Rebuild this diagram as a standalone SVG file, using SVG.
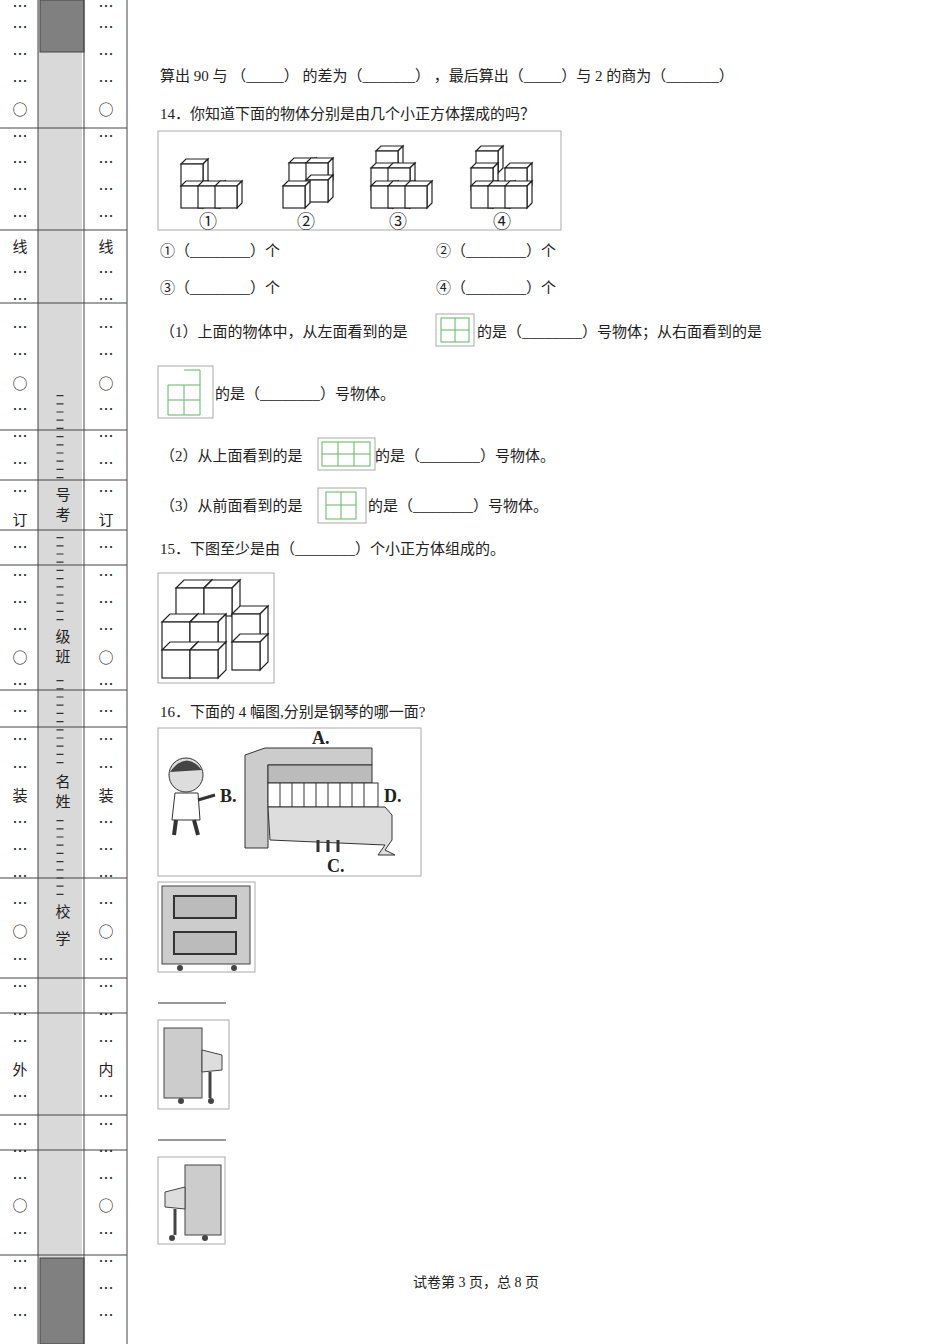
<svg xmlns="http://www.w3.org/2000/svg" width="950" height="1344" viewBox="0 0 950 1344">
<style>
text{font-family:"Liberation Serif","Noto Sans CJK SC",serif;fill:#222}
#margin text{font-family:"Noto Sans CJK SC",sans-serif}
.t{font-size:15px}
.m{font-size:15px;text-anchor:middle}
.sep{stroke:#444;stroke-width:1}
.g{fill:none;stroke:#5cb85c;stroke-width:1}
.box{fill:none;stroke:#aaa;stroke-width:1}
.c{fill:#fff;stroke:#222;stroke-width:1.2}
</style>
<defs>
<g id="cube"><path class="c" d="M0,0 L5,-5 L27,-5 L22,0 Z"/><path class="c" d="M22,0 L27,-5 L27,17 L22,22 Z"/><rect class="c" x="0" y="0" width="22" height="22"/></g>
<g id="bc"><path class="c" d="M0,0 L8,-8 L36,-8 L28,0 Z"/><path class="c" d="M28,0 L36,-8 L36,20 L28,28 Z"/><rect class="c" x="0" y="0" width="28" height="28"/></g>
</defs>
<rect width="950" height="1344" fill="#fff"/>
<g id="margin">
<rect x="38" y="0" width="44" height="1344" fill="#d9d9d9"/>
<rect x="40" y="0" width="44" height="52" fill="#808080" stroke="#444"/>
<rect x="40" y="1258" width="44" height="86" fill="#808080" stroke="#444"/>
<line class="sep" x1="38" y1="0" x2="38" y2="1344"/>
<line class="sep" x1="84" y1="0" x2="84" y2="1344"/>
<line class="sep" x1="127" y1="0" x2="127" y2="1344"/>
<g class="sep">
<line x1="0" y1="128" x2="127" y2="128"/><line x1="0" y1="230" x2="127" y2="230"/><line x1="0" y1="303" x2="127" y2="303"/><line x1="0" y1="430" x2="127" y2="430"/><line x1="0" y1="480" x2="127" y2="480"/><line x1="0" y1="530" x2="127" y2="530"/><line x1="0" y1="565" x2="127" y2="565"/><line x1="0" y1="690" x2="127" y2="690"/><line x1="0" y1="727" x2="127" y2="727"/><line x1="0" y1="878" x2="127" y2="878"/><line x1="0" y1="978" x2="127" y2="978"/><line x1="0" y1="1013" x2="127" y2="1013"/><line x1="0" y1="1115" x2="127" y2="1115"/><line x1="0" y1="1150" x2="127" y2="1150"/><line x1="0" y1="1255" x2="127" y2="1255"/>
</g>
<g stroke="#333" stroke-width="7" stroke-dasharray="1.2 7">
<line x1="60" y1="395" x2="60" y2="485"/><line x1="60" y1="537" x2="60" y2="625"/><line x1="60" y1="680" x2="60" y2="768"/><line x1="60" y1="820" x2="60" y2="900"/>
</g>
<g class="m">
<text x="63" y="500">号</text><text x="63" y="520">考</text>
<text x="63" y="642">级</text><text x="63" y="662">班</text>
<text x="63" y="787">名</text><text x="63" y="807">姓</text>
<text x="63" y="917">校</text><text x="63" y="944">学</text>
</g>
<g class="m">
<text x="20" y="12">…</text><text x="20" y="33">…</text><text x="20" y="60">…</text><text x="20" y="87">…</text><text x="20" y="115">○</text><text x="20" y="142">…</text><text x="20" y="168">…</text><text x="20" y="195">…</text><text x="20" y="222">…</text><text x="20" y="252">线</text><text x="20" y="278">…</text><text x="20" y="305">…</text><text x="20" y="333">…</text><text x="20" y="360">…</text><text x="20" y="389">○</text><text x="20" y="415">…</text><text x="20" y="442">…</text><text x="20" y="469">…</text><text x="20" y="497">…</text><text x="20" y="525">订</text><text x="20" y="553">…</text><text x="20" y="581">…</text><text x="20" y="608">…</text><text x="20" y="635">…</text><text x="20" y="663">○</text><text x="20" y="690">…</text><text x="20" y="717">…</text><text x="20" y="745">…</text><text x="20" y="773">…</text><text x="20" y="801">装</text><text x="20" y="828">…</text><text x="20" y="855">…</text><text x="20" y="882">…</text><text x="20" y="909">…</text><text x="20" y="937">○</text><text x="20" y="965">…</text><text x="20" y="992">…</text><text x="20" y="1020">…</text><text x="20" y="1047">…</text><text x="20" y="1075">外</text><text x="20" y="1102">…</text><text x="20" y="1130">…</text><text x="20" y="1157">…</text><text x="20" y="1184">…</text><text x="20" y="1211">○</text><text x="20" y="1239">…</text><text x="20" y="1267">…</text><text x="20" y="1294">…</text><text x="20" y="1321">…</text>
</g>
<g class="m">
<text x="106" y="12">…</text><text x="106" y="33">…</text><text x="106" y="60">…</text><text x="106" y="87">…</text><text x="106" y="115">○</text><text x="106" y="142">…</text><text x="106" y="168">…</text><text x="106" y="195">…</text><text x="106" y="222">…</text><text x="106" y="252">线</text><text x="106" y="278">…</text><text x="106" y="305">…</text><text x="106" y="333">…</text><text x="106" y="360">…</text><text x="106" y="389">○</text><text x="106" y="415">…</text><text x="106" y="442">…</text><text x="106" y="469">…</text><text x="106" y="497">…</text><text x="106" y="525">订</text><text x="106" y="553">…</text><text x="106" y="581">…</text><text x="106" y="608">…</text><text x="106" y="635">…</text><text x="106" y="663">○</text><text x="106" y="690">…</text><text x="106" y="717">…</text><text x="106" y="745">…</text><text x="106" y="773">…</text><text x="106" y="801">装</text><text x="106" y="828">…</text><text x="106" y="855">…</text><text x="106" y="882">…</text><text x="106" y="909">…</text><text x="106" y="937">○</text><text x="106" y="965">…</text><text x="106" y="992">…</text><text x="106" y="1020">…</text><text x="106" y="1047">…</text><text x="106" y="1075">内</text><text x="106" y="1102">…</text><text x="106" y="1130">…</text><text x="106" y="1157">…</text><text x="106" y="1184">…</text><text x="106" y="1211">○</text><text x="106" y="1239">…</text><text x="106" y="1267">…</text><text x="106" y="1294">…</text><text x="106" y="1321">…</text>
</g>
</g>
<g id="q13"><text class="t" x="160" y="81">算出 90 与 （_____） 的差为（_______） ，最后算出（_____）与 2 的商为（_______）</text></g>
<g id="q14">
<text class="t" x="160" y="119">14．你知道下面的物体分别是由几个小正方体摆成的吗？</text>
<rect class="box" x="158" y="131" width="403" height="99"/>
<use href="#cube" x="181" y="164"/><use href="#cube" x="181" y="186"/><use href="#cube" x="198" y="186"/><use href="#cube" x="215" y="186"/>
<use href="#cube" x="289" y="163"/><use href="#cube" x="306" y="163"/><use href="#cube" x="306" y="180"/><use href="#cube" x="283" y="186"/>
<use href="#cube" x="376" y="151"/><use href="#cube" x="371" y="168"/><use href="#cube" x="388" y="168"/><use href="#cube" x="371" y="186"/><use href="#cube" x="388" y="186"/><use href="#cube" x="405" y="186"/>
<use href="#cube" x="476" y="151"/><use href="#cube" x="505" y="168"/><use href="#cube" x="471" y="168"/><use href="#cube" x="471" y="186"/><use href="#cube" x="488" y="186"/><use href="#cube" x="505" y="186"/>
<text class="m" x="208" y="228" style="font-size:18px">①</text><text class="m" x="306" y="228" style="font-size:18px">②</text><text class="m" x="398" y="228" style="font-size:18px">③</text><text class="m" x="502" y="228" style="font-size:18px">④</text>
<text class="t" x="160" y="256">①（________）个</text><text class="t" x="436" y="256">②（________）个</text>
<text class="t" x="160" y="293">③（________）个</text><text class="t" x="436" y="293">④（________）个</text>
<text class="t" x="160" y="337">（1）上面的物体中，从左面看到的是</text>
<rect class="box" x="436" y="314" width="38" height="32"/><rect class="g" x="441" y="318" width="28" height="24"/><line class="g" x1="455" y1="318" x2="455" y2="342"/><line class="g" x1="441" y1="330" x2="469" y2="330"/>
<text class="t" x="477" y="337">的是（________）号物体；从右面看到的是</text>
<rect class="box" x="158" y="366" width="55" height="52"/><path class="g" d="M168,385 H200 V415 H168 Z M184,370 H200 V385 M184,385 V415 M168,400 H200"/>
<text class="t" x="215" y="399">的是（________）号物体。</text>
<text class="t" x="160" y="461">（2）从上面看到的是</text>
<rect class="box" x="318" y="438" width="57" height="32"/><rect class="g" x="322" y="442" width="48" height="24"/><line class="g" x1="338" y1="442" x2="338" y2="466"/><line class="g" x1="354" y1="442" x2="354" y2="466"/><line class="g" x1="322" y1="454" x2="370" y2="454"/>
<text class="t" x="375" y="461">的是（________）号物体。</text>
<text class="t" x="160" y="511">（3）从前面看到的是</text>
<rect class="box" x="318" y="488" width="48" height="35"/><rect class="g" x="326" y="492" width="30" height="27"/><line class="g" x1="341" y1="492" x2="341" y2="519"/><line class="g" x1="326" y1="505" x2="356" y2="505"/>
<text class="t" x="368" y="511">的是（________）号物体。</text>
</g>
<g id="q15">
<text class="t" x="160" y="554">15．下图至少是由（________）个小正方体组成的。</text>
<rect class="box" x="158" y="573" width="116" height="110"/>
<use href="#bc" x="176" y="588"/><use href="#bc" x="204" y="588"/>
<use href="#bc" x="232" y="614"/><use href="#bc" x="232" y="642"/>
<use href="#bc" x="162" y="622"/><use href="#bc" x="190" y="622"/><use href="#bc" x="162" y="650"/><use href="#bc" x="190" y="650"/>
</g>
<g id="q16">
<text class="t" x="160" y="717">16．下面的 4 幅图,分别是钢琴的哪一面?</text>
<rect class="box" x="158" y="728" width="263" height="148"/>
<circle cx="186" cy="775" r="17" fill="#ddd" stroke="#333"/><path d="M170,772 Q186,750 202,770" fill="#444"/>
<path d="M175,793 L198,793 L200,820 L172,820 Z" fill="#fff" stroke="#333"/><path d="M198,800 L215,795" stroke="#333" stroke-width="3"/>
<path d="M176,820 L174,835 M194,820 L198,835" stroke="#333" stroke-width="4"/>
<text x="220" y="802" style="font-size:18px;font-weight:bold">B.</text>
<text x="312" y="744" style="font-size:18px;font-weight:bold">A.</text>
<text x="384" y="802" style="font-size:18px;font-weight:bold">D.</text>
<text x="327" y="872" style="font-size:18px;font-weight:bold">C.</text>
<path d="M245,755 L265,748 L372,748 L372,765 L268,765 L268,848 L245,848 Z" fill="#ccc" stroke="#333"/>
<rect x="268" y="765" width="104" height="18" fill="#bbb" stroke="#333"/>
<rect x="268" y="783" width="110" height="24" fill="#fff" stroke="#333"/>
<g stroke="#333"><line x1="280" y1="783" x2="280" y2="807"/><line x1="292" y1="783" x2="292" y2="807"/><line x1="304" y1="783" x2="304" y2="807"/><line x1="316" y1="783" x2="316" y2="807"/><line x1="328" y1="783" x2="328" y2="807"/><line x1="340" y1="783" x2="340" y2="807"/><line x1="352" y1="783" x2="352" y2="807"/><line x1="364" y1="783" x2="364" y2="807"/></g>
<path d="M268,807 L385,807 L392,815 L392,840 L385,850 L395,855 L378,855 L385,845 L270,840 Z" fill="#ddd" stroke="#333"/>
<path d="M318,840 v12 M328,840 v12 M338,840 v12" stroke="#333" stroke-width="3"/>
<rect class="box" x="158" y="882" width="97" height="90"/>
<rect x="162" y="886" width="88" height="78" fill="#ccc" stroke="#444"/>
<rect x="174" y="896" width="62" height="22" fill="#bbb" stroke="#333" stroke-width="2"/>
<rect x="174" y="932" width="62" height="22" fill="#bbb" stroke="#333" stroke-width="2"/>
<circle cx="180" cy="968" r="3" fill="#444"/><circle cx="234" cy="968" r="3" fill="#444"/>
<line x1="158" y1="1003" x2="226" y2="1003" stroke="#333"/>
<rect class="box" x="158" y="1020" width="71" height="89"/>
<rect x="164" y="1028" width="38" height="70" fill="#ccc" stroke="#444"/><path d="M202,1050 L222,1055 L222,1070 L202,1072 Z" fill="#ddd" stroke="#444"/><path d="M210,1072 V1098" stroke="#444" stroke-width="3"/>
<circle cx="181" cy="1101" r="3" fill="#444"/><circle cx="211" cy="1101" r="3" fill="#444"/>
<line x1="158" y1="1140" x2="226" y2="1140" stroke="#333"/>
<rect class="box" x="158" y="1157" width="67" height="87"/>
<rect x="185" y="1165" width="36" height="70" fill="#ccc" stroke="#444"/><path d="M185,1187 L165,1192 L165,1207 L185,1209 Z" fill="#ddd" stroke="#444"/><path d="M175,1209 V1235" stroke="#444" stroke-width="3"/>
<circle cx="172" cy="1238" r="3" fill="#444"/><circle cx="205" cy="1238" r="3" fill="#444"/>
</g>
<g id="footer"><text class="m" x="476" y="1287" style="font-size:14px">试卷第 3 页，总 8 页</text></g>
</svg>
